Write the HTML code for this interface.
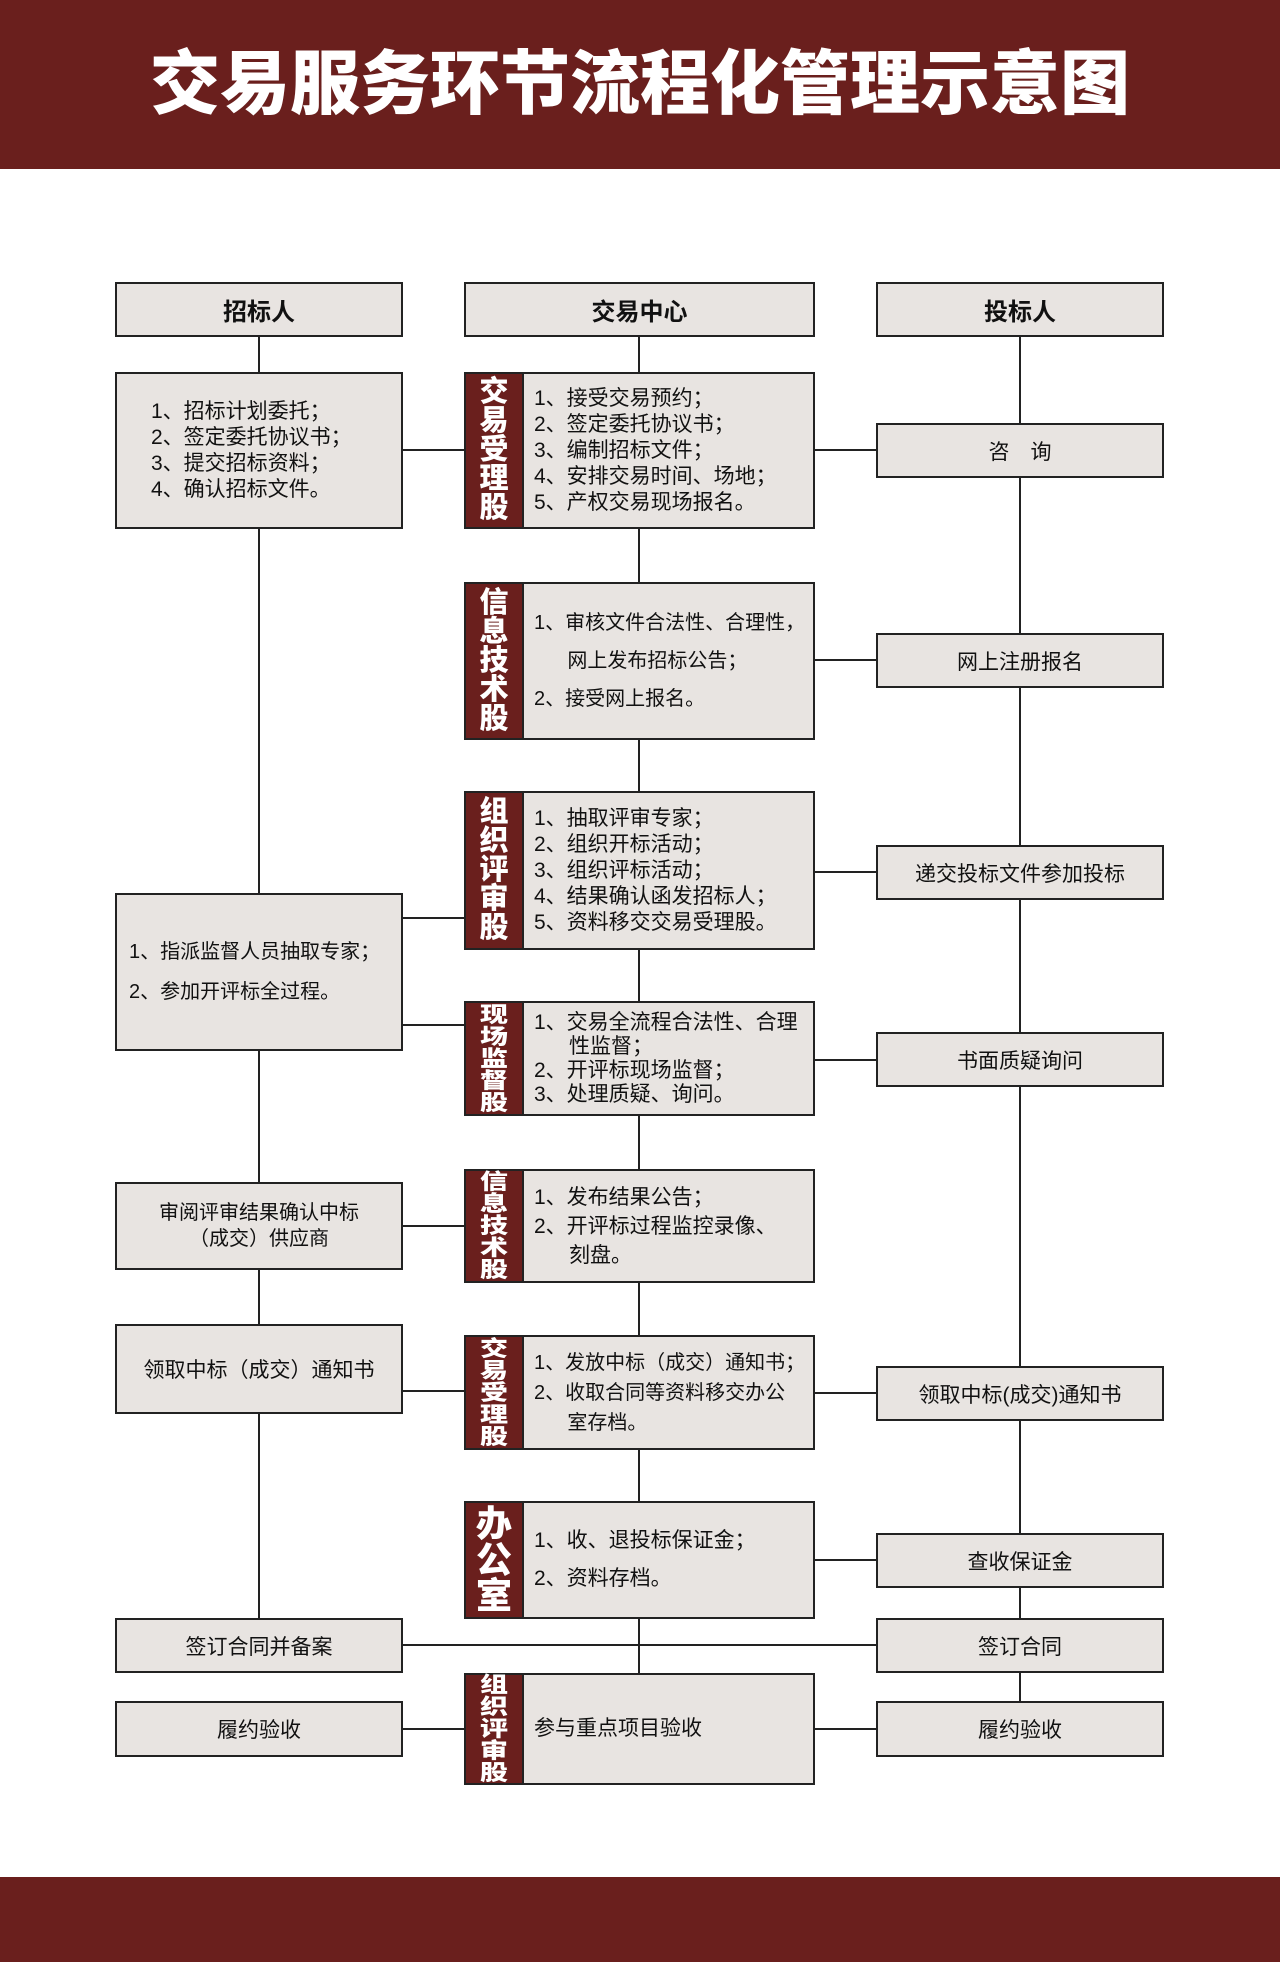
<!DOCTYPE html>
<html><head><meta charset="utf-8"><style>
*{margin:0;padding:0;box-sizing:border-box}
body{width:1280px;height:1962px;position:relative;background:#fff;font-family:"Liberation Sans","Noto Sans CJK SC",sans-serif;overflow:hidden}
.hdr{position:absolute;left:0;top:0;width:1280px;height:169px;background:#6a1f1d;color:#fff;font-size:70px;font-weight:900;text-align:center;line-height:169px}
.ftr{position:absolute;left:0;top:1877px;width:1280px;height:85px;background:#6a1f1d}
.b{position:absolute;background:#e8e4e1;border:2px solid #222;font-size:21px;color:#111;display:flex;align-items:center;white-space:nowrap}
.c{justify-content:center;text-align:center}
.h{font-weight:bold;font-size:24px;justify-content:center}
.lab{position:absolute;left:0;top:0;bottom:0;width:58px;background:#6a1f1d;color:#fff;font-weight:900;display:flex;flex-direction:column;align-items:center;justify-content:center;line-height:1;border-right:2px solid #222}
.sq{font-size:28px}
.sq span{display:block;transform:scaleY(0.78);transform-origin:center;margin:-3px 0}
.txt{position:absolute;left:68px;right:2px;top:0;bottom:0;display:flex;flex-direction:column;justify-content:center;line-height:26px;white-space:nowrap}
.l{position:absolute;background:#222}
</style></head><body>
<div class="hdr">交易服务环节流程化管理示意图</div>
<div class="ftr"></div>
<div class="l" style="left:258px;top:337px;width:2px;height:1281px"></div>
<div class="l" style="left:638px;top:337px;width:2px;height:1336px"></div>
<div class="l" style="left:1019px;top:337px;width:2px;height:1364px"></div>
<div class="l" style="left:403px;top:449px;width:61px;height:2px"></div>
<div class="l" style="left:815px;top:449px;width:61px;height:2px"></div>
<div class="l" style="left:815px;top:659px;width:61px;height:2px"></div>
<div class="l" style="left:815px;top:871px;width:61px;height:2px"></div>
<div class="l" style="left:403px;top:917px;width:61px;height:2px"></div>
<div class="l" style="left:403px;top:1024px;width:61px;height:2px"></div>
<div class="l" style="left:815px;top:1059px;width:61px;height:2px"></div>
<div class="l" style="left:403px;top:1225px;width:61px;height:2px"></div>
<div class="l" style="left:403px;top:1390px;width:61px;height:2px"></div>
<div class="l" style="left:815px;top:1392px;width:61px;height:2px"></div>
<div class="l" style="left:815px;top:1559px;width:61px;height:2px"></div>
<div class="l" style="left:403px;top:1644px;width:473px;height:2px"></div>
<div class="l" style="left:403px;top:1728px;width:61px;height:2px"></div>
<div class="l" style="left:815px;top:1728px;width:61px;height:2px"></div>
<div class="b h" style="left:115px;top:282px;width:288px;height:55px">招标人</div>
<div class="b h" style="left:464px;top:282px;width:351px;height:55px">交易中心</div>
<div class="b h" style="left:876px;top:282px;width:288px;height:55px">投标人</div>
<div class="b" style="left:115px;top:372px;width:288px;height:157px;padding-left:34px;line-height:26px">1、招标计划委托；<br>2、签定委托协议书；<br>3、提交招标资料；<br>4、确认招标文件。</div>
<div class="b" style="left:115px;top:893px;width:288px;height:158px;padding-left:12px;line-height:40px;font-size:20px">1、指派监督人员抽取专家；<br>2、参加开评标全过程。</div>
<div class="b c" style="left:115px;top:1182px;width:288px;height:88px;line-height:26px;font-size:20px">审阅评审结果确认中标<br>（成交）供应商</div>
<div class="b c" style="left:115px;top:1324px;width:288px;height:90px">领取中标（成交）通知书</div>
<div class="b c" style="left:115px;top:1618px;width:288px;height:55px">签订合同并备案</div>
<div class="b c" style="left:115px;top:1701px;width:288px;height:56px">履约验收</div>
<div class="b c" style="left:876px;top:423px;width:288px;height:55px">咨　询</div>
<div class="b c" style="left:876px;top:633px;width:288px;height:55px">网上注册报名</div>
<div class="b c" style="left:876px;top:845px;width:288px;height:55px">递交投标文件参加投标</div>
<div class="b c" style="left:876px;top:1032px;width:288px;height:55px">书面质疑询问</div>
<div class="b c" style="left:876px;top:1366px;width:288px;height:55px">领取中标(成交)通知书</div>
<div class="b c" style="left:876px;top:1533px;width:288px;height:55px">查收保证金</div>
<div class="b c" style="left:876px;top:1618px;width:288px;height:55px">签订合同</div>
<div class="b c" style="left:876px;top:1701px;width:288px;height:56px">履约验收</div>
<div class="b" style="left:464px;top:372px;width:351px;height:157px"><div class="lab" style="font-size:29px">交<br>易<br>受<br>理<br>股</div><div class="txt">1、接受交易预约；<br>2、签定委托协议书；<br>3、编制招标文件；<br>4、安排交易时间、场地；<br>5、产权交易现场报名。</div></div>
<div class="b" style="left:464px;top:582px;width:351px;height:158px"><div class="lab" style="font-size:29px">信<br>息<br>技<br>术<br>股</div><div class="txt" style="line-height:38px;font-size:20px">1、审核文件合法性、合理性，<br>&nbsp;&nbsp;&nbsp;&nbsp;&nbsp;&nbsp;网上发布招标公告；<br>2、接受网上报名。</div></div>
<div class="b" style="left:464px;top:791px;width:351px;height:159px"><div class="lab" style="font-size:29px">组<br>织<br>评<br>审<br>股</div><div class="txt">1、抽取评审专家；<br>2、组织开标活动；<br>3、组织评标活动；<br>4、结果确认函发招标人；<br>5、资料移交交易受理股。</div></div>
<div class="b" style="left:464px;top:1001px;width:351px;height:115px"><div class="lab sq"><span>现</span><span>场</span><span>监</span><span>督</span><span>股</span></div><div class="txt" style="line-height:24px">1、交易全流程合法性、合理<br>&nbsp;&nbsp;&nbsp;&nbsp;&nbsp;&nbsp;性监督；<br>2、开评标现场监督；<br>3、处理质疑、询问。</div></div>
<div class="b" style="left:464px;top:1169px;width:351px;height:114px"><div class="lab sq"><span>信</span><span>息</span><span>技</span><span>术</span><span>股</span></div><div class="txt" style="line-height:29px">1、发布结果公告；<br>2、开评标过程监控录像、<br>&nbsp;&nbsp;&nbsp;&nbsp;&nbsp;&nbsp;刻盘。</div></div>
<div class="b" style="left:464px;top:1335px;width:351px;height:115px"><div class="lab sq"><span>交</span><span>易</span><span>受</span><span>理</span><span>股</span></div><div class="txt" style="line-height:30px;font-size:20px">1、发放中标（成交）通知书；<br>2、收取合同等资料移交办公<br>&nbsp;&nbsp;&nbsp;&nbsp;&nbsp;&nbsp;室存档。</div></div>
<div class="b" style="left:464px;top:1501px;width:351px;height:118px"><div class="lab" style="font-size:36px">办<br>公<br>室</div><div class="txt" style="line-height:38px">1、收、退投标保证金；<br>2、资料存档。</div></div>
<div class="b" style="left:464px;top:1673px;width:351px;height:112px"><div class="lab sq"><span>组</span><span>织</span><span>评</span><span>审</span><span>股</span></div><div class="txt">参与重点项目验收</div></div>
</body></html>
